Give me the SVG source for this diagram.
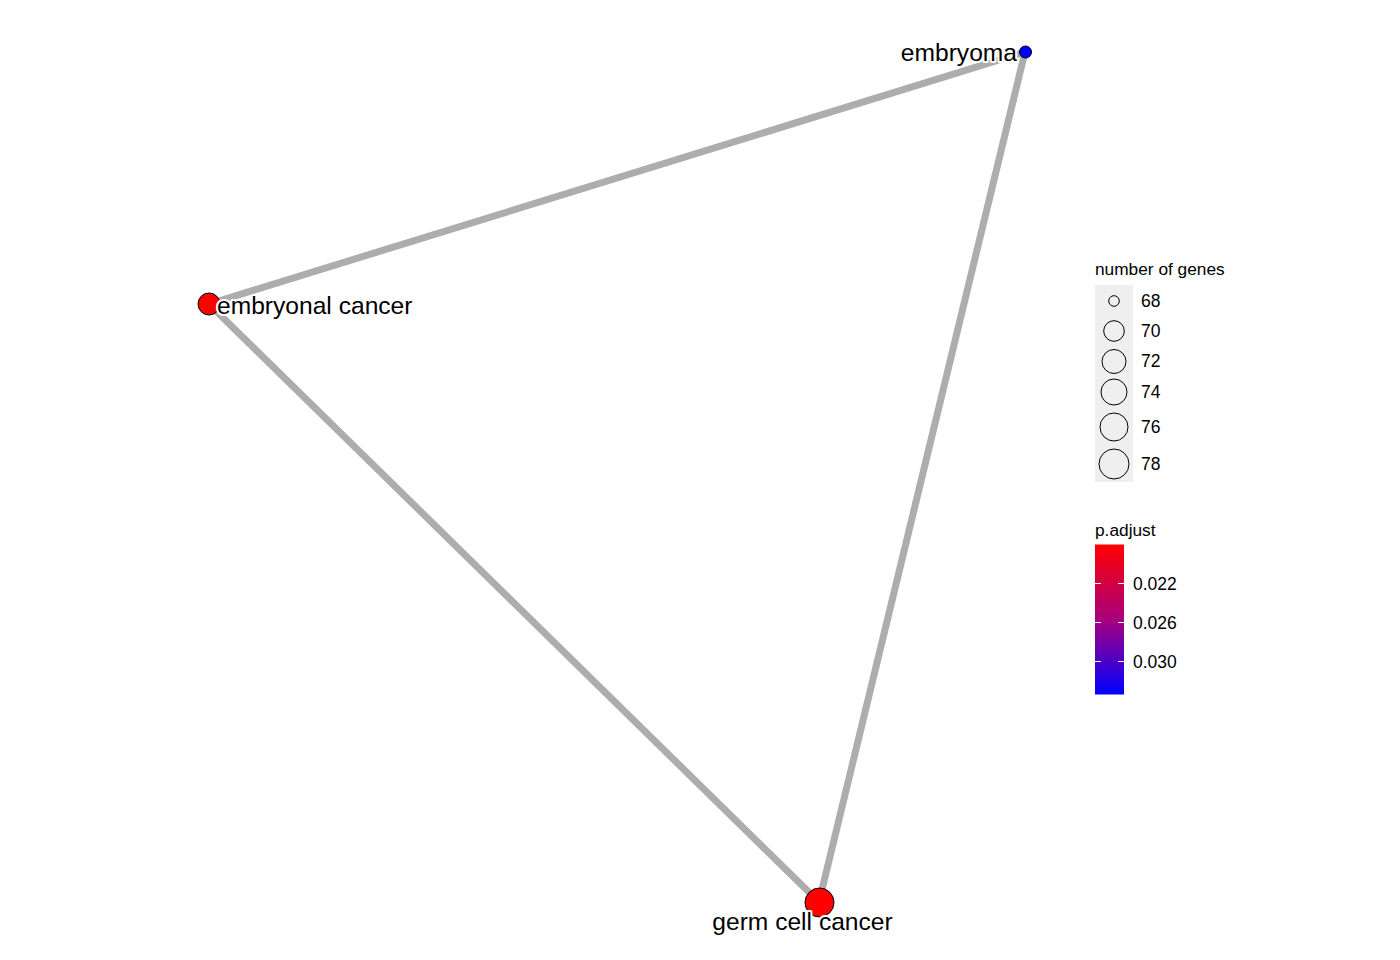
<svg xmlns="http://www.w3.org/2000/svg" width="1400" height="960" viewBox="0 0 1400 960">
<style>
.edge{stroke:#adadad;stroke-width:7;fill:none;stroke-linecap:butt}
.node{stroke:#000;stroke-width:1}
.lbl{font-family:"Liberation Sans",Arial,sans-serif;font-size:24.6px;fill:#000;stroke:#fff;stroke-width:4;paint-order:stroke;stroke-linejoin:round}
.lt{font-family:"Liberation Sans",Arial,sans-serif;font-size:17.3px;fill:#000}
.ln{font-family:"Liberation Sans",Arial,sans-serif;font-size:17.5px;fill:#000}
.key{fill:none;stroke:#000;stroke-width:1}
.tick{stroke:#fff;stroke-width:1}
</style>
<defs>
<linearGradient id="grad" x1="0" y1="0" x2="0" y2="1">
<stop offset="0" stop-color="#ff0000"/>
<stop offset="0.5" stop-color="#a8007e"/>
<stop offset="1" stop-color="#0000ff"/>
</linearGradient>
</defs>
<rect width="1400" height="960" fill="#fff"/>
<g id="edges">
<line class="edge" x1="1025" y1="52" x2="209" y2="304"/>
<line class="edge" x1="1025" y1="52" x2="819" y2="902"/>
<line class="edge" x1="209" y1="304" x2="819" y2="902"/>
</g>
<g id="node-embryoma">
<circle class="node" cx="1025.5" cy="52" r="6" fill="#0000ff"/>
<text class="lbl" x="1017" y="61" text-anchor="end">embryoma</text>
</g>
<g id="node-embryonal-cancer">
<circle class="node" cx="209" cy="304" r="11" fill="#ff0000"/>
<text class="lbl" x="217" y="314">embryonal cancer</text>
</g>
<g id="node-germ-cell-cancer">
<circle class="node" cx="819.5" cy="902.5" r="14.5" fill="#ff0000"/>
<text class="lbl" x="802.5" y="930" text-anchor="middle">germ cell cancer</text>
</g>
<g id="legend-size">
<text class="lt" x="1095" y="275">number of genes</text>
<rect x="1095" y="285" width="38" height="197" fill="#efefef"/>
<circle class="key" cx="1114" cy="301" r="5.3"/>
<circle class="key" cx="1114" cy="331" r="10.3"/>
<circle class="key" cx="1114" cy="361.5" r="12"/>
<circle class="key" cx="1114" cy="392" r="13"/>
<circle class="key" cx="1114" cy="427" r="14"/>
<circle class="key" cx="1114" cy="464" r="15"/>
<text class="ln" x="1141" y="307">68</text>
<text class="ln" x="1141" y="337">70</text>
<text class="ln" x="1141" y="367">72</text>
<text class="ln" x="1141" y="398">74</text>
<text class="ln" x="1141" y="433">76</text>
<text class="ln" x="1141" y="470">78</text>
</g>
<g id="legend-colour">
<text class="lt" x="1095" y="536">p.adjust</text>
<rect x="1095" y="544.5" width="29" height="150" fill="url(#grad)"/>
<line class="tick" x1="1095" y1="583.5" x2="1101" y2="583.5"/>
<line class="tick" x1="1118" y1="583.5" x2="1124" y2="583.5"/>
<line class="tick" x1="1095" y1="622.5" x2="1101" y2="622.5"/>
<line class="tick" x1="1118" y1="622.5" x2="1124" y2="622.5"/>
<line class="tick" x1="1095" y1="661.5" x2="1101" y2="661.5"/>
<line class="tick" x1="1118" y1="661.5" x2="1124" y2="661.5"/>
<text class="ln" x="1133" y="589.5">0.022</text>
<text class="ln" x="1133" y="628.5">0.026</text>
<text class="ln" x="1133" y="667.5">0.030</text>
</g>
</svg>
